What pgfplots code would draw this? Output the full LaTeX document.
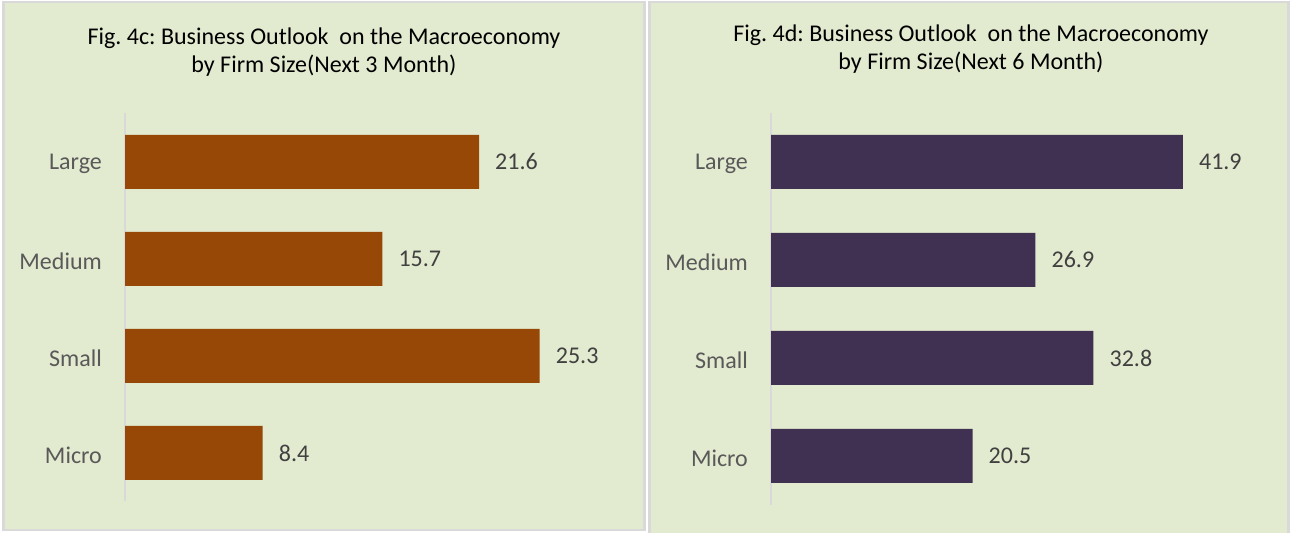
\documentclass[border=0pt]{standalone}
\usepackage{fontspec}
\setmainfont{Carlito}
\usepackage{pgfplots}
\pgfplotsset{compat=1.18}
\frenchspacing

\definecolor{panelbg}{RGB}{226,234,207}
\definecolor{panelline}{RGB}{217,217,217}
\definecolor{barbrown}{RGB}{151,71,6}
\definecolor{barpurple}{RGB}{64,49,82}
\definecolor{lbl}{RGB}{89,89,89}
\definecolor{val}{RGB}{64,64,64}

\newcommand{\chartfont}{\fontsize{24bp}{29bp}\selectfont}

\pgfplotsset{
  outlook/.style={
    scale only axis,
    xbar,
    bar width=54bp,
    clip=false,
    axis x line=none,
    axis y line*=left,
    axis line style={draw=panelline, line width=2bp},
    xmin=0,
    ymin=-0.5, ymax=3.5,
    ytick={0,1,2,3},
    yticklabels={Micro,Small,Medium,Large},
    major tick length=0pt,
    yticklabel style={font=\chartfont, text=lbl, inner sep=0pt, xshift=-23bp, yshift=-2bp},
    point meta=x,
    nodes near coords={\pgfmathprintnumber[fixed,fixed zerofill,precision=1]{\pgfplotspointmeta}},
    nodes near coords align={horizontal},
    every node near coord/.append style={font=\chartfont, text=val, anchor=west, inner sep=0pt, xshift=16bp},
    /pgf/number format/assume math mode=true,
  }
}

\begin{document}
\begin{tikzpicture}[x=1bp,y=1bp]
\useasboundingbox (0,0) rectangle (1291,533);
\fill[white] (0,0) rectangle (1291,533);
% panels
\draw[panelline, line width=2.5bp, fill=panelbg] (3.5,3) rectangle (644.5,531);
\draw[panelline, line width=2.5bp, fill=panelbg] (649.5,-3) rectangle (1288.5,531);

% titles
\node[font=\chartfont, anchor=base] at (324,488) {Fig. 4c: Business Outlook\ \ on the Macroeconomy};
\node[font=\chartfont, anchor=base] at (324,460) {by Firm Size(Next 3 Month)};
\node[font=\chartfont, anchor=base] at (971,491) {Fig. 4d: Business Outlook\ \ on the Macroeconomy};
\node[font=\chartfont, anchor=base] at (971,463) {by Firm Size(Next 6 Month)};

% left chart: next 3 months
\begin{axis}[outlook,
  at={(125bp,31.5bp)}, anchor=south west,
  width=491.7bp, height=388bp, xmax=30]
\addplot[fill=barbrown, draw=none] coordinates {
  (21.6,3) (15.7,2) (25.3,1) (8.4,0)
};
\end{axis}

% right chart: next 6 months
\begin{axis}[outlook,
  at={(771bp,28bp)}, anchor=south west,
  width=491.5bp, height=392bp, xmax=50]
\addplot[fill=barpurple, draw=none] coordinates {
  (41.9,3) (26.9,2) (32.8,1) (20.5,0)
};
\end{axis}
\end{tikzpicture}
\end{document}
